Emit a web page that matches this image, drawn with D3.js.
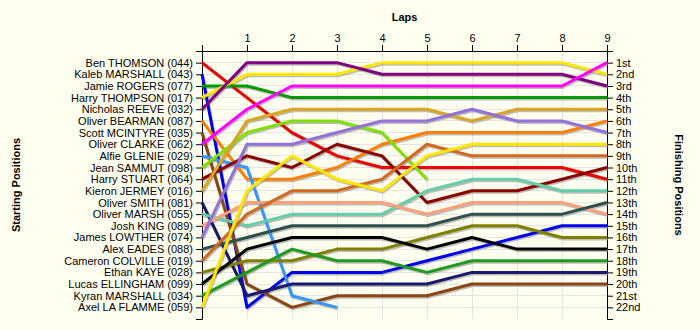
<!DOCTYPE html>
<html>
<head>
<meta charset="utf-8">
<script src="https://cdn.jsdelivr.net/npm/d3@7"></script>
<style>
  html, body { margin: 0; padding: 0; background: #fffff0; }
  svg { display: block; font-family: "Liberation Sans", Arial, sans-serif; }
  .axis text { font-size: 11px; fill: #000; }
  .axis path, .axis line { stroke: #000; }
  .title { font-size: 11px; font-weight: bold; }
</style>
</head>
<body>
<svg id="chart" width="700" height="330"></svg>
<script>
// Lap numbers shown along the top axis
const laps = [0, 1, 2, 3, 4, 5, 6, 7, 8, 9];

// Drivers in starting-grid order
const drivers = [
  "Ben THOMSON (044)", "Kaleb MARSHALL (043)", "Jamie ROGERS (077)",
  "Harry THOMPSON (017)", "Nicholas REEVE (032)", "Oliver BEARMAN (087)",
  "Scott MCINTYRE (035)", "Oliver CLARKE (062)", "Alfie GLENIE (029)",
  "Jean SAMMUT (098)", "Harry STUART (064)", "Kieron JERMEY (016)",
  "Oliver SMITH (081)", "Oliver MARSH (055)", "Josh KING (089)",
  "James LOWTHER (074)", "Alex EADES (088)", "Cameron COLVILLE (019)",
  "Ethan KAYE (028)", "Lucas ELLINGHAM (099)", "Kyran MARSHALL (034)",
  "Axel LA FLAMME (059)"
];

// Race position of each driver at the end of each lap (lap 0 = grid).
// Shorter rows are drivers who retired.
const positions = [
  [1, 4, 7, 9, 10, 10, 10, 10, 10, 11],
  [2, 22, 19, 19, 19, 18, 17, 16, 15, 15],
  [3, 3, 4, 4, 4, 4, 4, 4, 4, 4],
  [4, 2, 2, 2, 1, 1, 1, 1, 1, 2],
  [5, 1, 1, 1, 2, 2, 2, 2, 2, 3],
  [6, 11, 11, 10, 8, 7, 7, 7, 7, 6],
  [7, 20, 22, 21, 21, 21, 20, 20, 20, 20],
  [8, 5, 3, 3, 3, 3, 3, 3, 3, 1],
  [9, 10, 21, 22],
  [10, 7, 6, 6, 7, 11],
  [11, 9, 10, 8, 9, 13, 12, 12, 11, 10],
  [12, 6, 5, 5, 5, 5, 6, 5, 5, 5],
  [13, 21, 20, 20, 20, 20, 19, 19, 19, 19],
  [14, 15, 14, 14, 14, 12, 11, 11, 12, 12],
  [15, 13, 13, 13, 13, 14, 13, 13, 13, 14],
  [16, 8, 8, 7, 6, 6, 5, 6, 6, 7],
  [17, 16, 15, 15, 15, 15, 14, 14, 14, 13],
  [18, 14, 12, 12, 11, 8, 9, 9, 9, 9],
  [19, 18, 18, 17, 17, 16, 15, 15, 16, 16],
  [20, 17, 16, 16, 16, 17, 16, 17, 17, 17],
  [21, 19, 17, 18, 18, 19, 18, 18, 18, 18],
  [22, 12, 9, 11, 12, 9, 8, 8, 8, 8]
];

// Labels for the finishing-position axis
const finishLabels = [
  "1st", "2nd", "3rd", "4th", "5th", "6th", "7th", "8th", "9th", "10th", "11th",
  "12th", "13th", "14th", "15th", "16th", "17th", "18th", "19th", "20th", "21st", "22nd"
];

// One colour per driver, same order as the grid
const palette = [
  "#ee0000", "#0000ee", "#009a00", "#ffe600", "#800080", "#ff8000",
  "#8b4513", "#ff00ff", "#3399ff", "#80e000", "#8b0000", "#daa520",
  "#191970", "#66cdaa", "#ffa07a", "#9370db", "#2f4f4f", "#d2691e",
  "#808000", "#000000", "#1f9a1f", "#ffe600"
];

const margin = { top: 51, left: 202, right: 93, bottom: 11 };
const svg = d3.select("#chart");
const W = +svg.attr("width"), H = +svg.attr("height");
const innerW = W - margin.left - margin.right;
const innerH = H - margin.top - margin.bottom;

const x = d3.scaleLinear().domain([0, 9]).range([0, innerW]);
const y = d3.scaleLinear().domain([0, drivers.length + 1]).range([0, innerH]);

const g = svg.append("g").attr("transform", `translate(${margin.left},${margin.top})`);

// Grid
const posTicks = d3.range(1, drivers.length + 1);
g.append("g").selectAll("line").data(posTicks).join("line")
  .attr("x1", 0).attr("x2", innerW)
  .attr("y1", d => y(d)).attr("y2", d => y(d))
  .attr("stroke", "#e4e4e4").attr("stroke-width", 1)
  .attr("shape-rendering", "crispEdges");
g.append("g").selectAll("line").data(laps.slice(1)).join("line")
  .attr("x1", d => x(d)).attr("x2", d => x(d))
  .attr("y1", 0).attr("y2", innerH)
  .attr("stroke", "#e4e4e4").attr("stroke-width", 1)
  .attr("shape-rendering", "crispEdges");

// Axes
g.append("g").attr("class", "axis")
  .call(d3.axisLeft(y).tickValues(posTicks).tickFormat(d => drivers[d - 1]).tickSizeOuter(6));
g.append("g").attr("class", "axis").attr("transform", `translate(${innerW},0)`)
  .call(d3.axisRight(y).tickValues(posTicks).tickFormat(d => finishLabels[d - 1]).tickSizeOuter(6));
g.append("g").attr("class", "axis")
  .call(d3.axisTop(x).tickValues(laps.slice(1)).tickFormat(d3.format("d")).tickSizeOuter(6));

// Driver lines with a soft shadow underneath
const line = d3.line().x((d, i) => x(laps[i])).y(d => y(d));
const shadows = g.append("g").attr("transform", "translate(1,1.5)");
const lines = g.append("g");
positions.forEach((row, i) => {
  shadows.append("path").attr("d", line(row))
    .attr("fill", "none").attr("stroke", "#888").attr("stroke-opacity", 0.55)
    .attr("stroke-width", 3).attr("stroke-linejoin", "round");
});
positions.forEach((row, i) => {
  lines.append("path").attr("d", line(row))
    .attr("fill", "none").attr("stroke", palette[i])
    .attr("stroke-width", 3).attr("stroke-linejoin", "round");
});

// Titles
svg.append("text").attr("class", "title").attr("x", margin.left + innerW / 2).attr("y", 21)
  .attr("text-anchor", "middle").text("Laps");
svg.append("text").attr("class", "title")
  .attr("transform", `translate(20,${margin.top + innerH / 2}) rotate(-90)`)
  .attr("text-anchor", "middle").text("Starting Positions");
svg.append("text").attr("class", "title")
  .attr("transform", `translate(675,${margin.top + innerH / 2}) rotate(90)`)
  .attr("text-anchor", "middle").text("Finishing Positions");
</script>
</body>
</html>
